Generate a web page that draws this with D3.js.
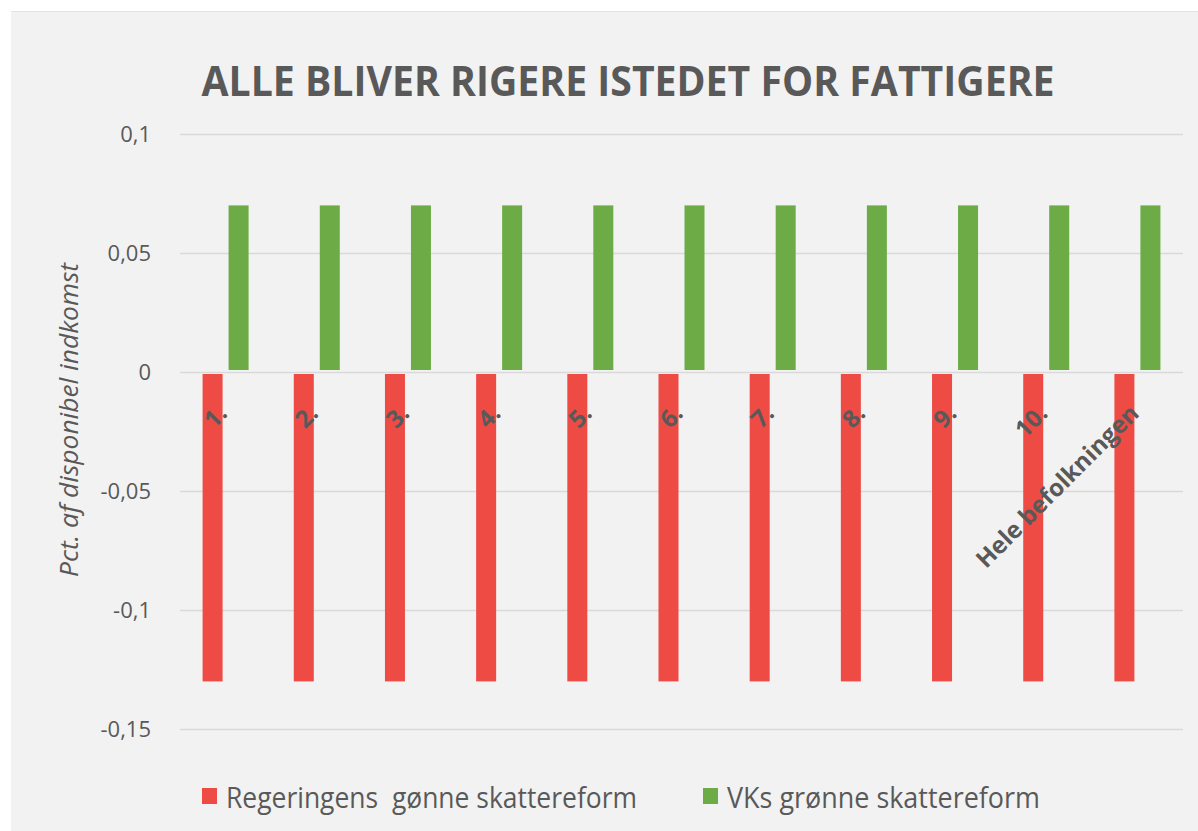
<!DOCTYPE html>
<html>
<head>
<meta charset="utf-8">
<script src="https://cdn.jsdelivr.net/npm/d3@7/dist/d3.min.js"></script>
<style>
  html, body { margin: 0; padding: 0; background: #ffffff; }
  svg { display: block; }
</style>
</head>
<body>
<svg id="chart" width="1198" height="831"></svg>
<script>
const categories = ["1.", "2.", "3.", "4.", "5.", "6.", "7.", "8.", "9.", "10.", "Hele befolkningen"];
const regeringValues = [-0.13, -0.13, -0.13, -0.13, -0.13, -0.13, -0.13, -0.13, -0.13, -0.13, -0.13];
const vkValues = [0.07, 0.07, 0.07, 0.07, 0.07, 0.07, 0.07, 0.07, 0.07, 0.07, 0.07];
const seriesNames = ["Regeringens  gønne skattereform", "VKs grønne skattereform"];
const yTicks = [0.1, 0.05, 0, -0.05, -0.1, -0.15];
const yTickLabels = ["0,1", "0,05", "0", "-0,05", "-0,1", "-0,15"];
const titleText = "ALLE BLIVER RIGERE ISTEDET FOR FATTIGERE";
const yAxisTitle = "Pct. af disponibel indkomst";

const colors = ["#EE4B45", "#6CAB45"];
const textColor = "#595959";
const font = "'Open Sans', 'Noto Sans', sans-serif";

const svg = d3.select("#chart");

// panel background
svg.append("rect").attr("x", 11).attr("y", 11).attr("width", 1187).attr("height", 820)
  .attr("fill", "#F2F2F2");
svg.append("line").attr("x1", 11).attr("x2", 1198).attr("y1", 11.5).attr("y2", 11.5)
  .attr("stroke", "#E4E4E4").attr("stroke-width", 1);

const x = d3.scaleBand().domain(categories).range([180, 1183]).paddingInner(0).paddingOuter(0);
const y = d3.scaleLinear().domain([-0.15, 0.1]).range([729, 134]);

// gridlines
svg.append("g").selectAll("line").data(yTicks).join("line")
  .attr("x1", 180).attr("x2", 1183)
  .attr("y1", d => Math.round(y(d)) + 0.5).attr("y2", d => Math.round(y(d)) + 0.5)
  .attr("stroke", "#D9D9D9").attr("stroke-width", 1.5);

// y tick labels via axis
const yAxis = d3.axisLeft(y).tickValues(yTicks)
  .tickFormat((d, i) => yTickLabels[i]).tickSize(0).tickPadding(0);
const gy = svg.append("g").attr("transform", "translate(151,0)").call(yAxis);
gy.select(".domain").remove();
gy.selectAll("text").attr("font-family", font).attr("font-size", 22)
  .attr("fill", textColor).attr("dy", "0.36em");

// bars
const barW = 20, gap = 6;
const groupW = barW * 2 + gap;
const bars = svg.append("g");
categories.forEach((c, i) => {
  const cx = x(c) + x.bandwidth() / 2;
  const left = cx - groupW / 2;
  const rv = regeringValues[i], gv = vkValues[i];
  bars.append("rect")
    .attr("x", left).attr("width", barW)
    .attr("y", y(Math.max(0, rv)) + 2).attr("height", Math.abs(y(rv) - y(0)) - 2)
    .attr("fill", colors[0]);
  bars.append("rect")
    .attr("x", left + barW + gap).attr("width", barW)
    .attr("y", y(Math.max(0, gv))).attr("height", Math.abs(y(gv) - y(0)) - 2)
    .attr("fill", colors[1]);
});

// category labels, rotated
svg.append("g").selectAll("text").data(categories).join("text")
  .attr("transform", d => `translate(${x(d) + x.bandwidth() / 2 - 3},${409}) rotate(-45)`)
  .attr("text-anchor", "end")
  .attr("dy", "0.35em")
  .attr("font-family", font).attr("font-size", 24).attr("font-weight", "bold")
  .attr("fill", textColor)
  .text(d => d);

// title
svg.append("text").attr("x", 628).attr("y", 96)
  .attr("text-anchor", "middle")
  .attr("font-family", font).attr("font-size", 42).attr("font-weight", "bold")
  .attr("fill", textColor)
  .attr("textLength", 853).attr("lengthAdjust", "spacingAndGlyphs")
  .text(titleText);

// y axis title
svg.append("text")
  .attr("transform", `translate(78,420) rotate(-90)`)
  .attr("text-anchor", "middle")
  .attr("font-family", font).attr("font-size", 26).attr("font-style", "italic")
  .attr("fill", textColor)
  .attr("textLength", 314).attr("lengthAdjust", "spacingAndGlyphs")
  .text(yAxisTitle);

// legend
const legendX = [202, 703];
const legendTextW = [411, 313];
const lg = svg.append("g");
seriesNames.forEach((n, i) => {
  lg.append("rect").attr("x", legendX[i]).attr("y", 788).attr("width", 15).attr("height", 16)
    .attr("fill", colors[i]);
  lg.append("text").attr("x", legendX[i] + 24).attr("y", 808)
    .attr("font-family", font).attr("font-size", 30)
    .attr("fill", textColor)
    .attr("xml:space", "preserve")
    .style("white-space", "pre")
    .attr("textLength", legendTextW[i]).attr("lengthAdjust", "spacingAndGlyphs")
    .text(n);
});
</script>
</body>
</html>
